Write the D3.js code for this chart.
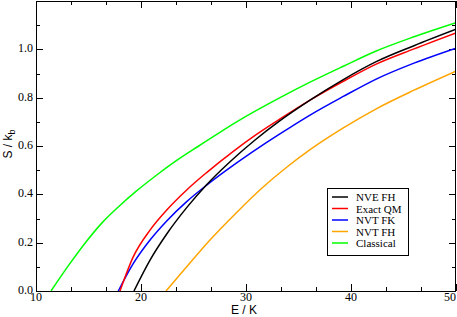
<!DOCTYPE html>
<html>
<head>
<meta charset="utf-8">
<script src="https://cdn.jsdelivr.net/npm/d3@7"></script>
<style>
  body { margin: 0; background: #fff; }
  svg { display: block; }
  .tick-label { font-family: "Liberation Serif", "Times New Roman", serif; font-size: 12px; }
  .axis-title { font-family: "Liberation Sans", Arial, sans-serif; font-size: 12px; }
  .legend-text { font-family: "Liberation Serif", "Times New Roman", serif; font-size: 11px; }
</style>
</head>
<body>
<div id="chart"></div>
<script>
// values (E in K, S in units of k_b)
const nveFhE = [19.33, 20.86, 22.45, 24.35, 26.25, 28.48, 30.86, 33.24, 36.1, 39.27, 42.45, 46, 50];
const nveFhS = [0, 0.128, 0.236, 0.345, 0.44, 0.535, 0.625, 0.705, 0.79, 0.875, 0.95, 1.015, 1.083];

const exactQmE = [18.0, 19.27, 20.86, 22.45, 24.35, 26.25, 28.79, 31, 33.24, 36.1, 39.27, 42.45, 46, 50];
const exactQmS = [0, 0.142, 0.252, 0.335, 0.418, 0.49, 0.578, 0.648, 0.712, 0.79, 0.868, 0.94, 1.002, 1.068];

const nvtFkE = [17.84, 19.27, 20.86, 22.45, 24.35, 26.25, 29.11, 31.97, 33.87, 36.1, 39.27, 42.45, 46, 50];
const nvtFkS = [0, 0.114, 0.211, 0.29, 0.37, 0.438, 0.53, 0.615, 0.668, 0.728, 0.805, 0.878, 0.943, 1.005];

const nvtFhE = [22.38, 24.35, 26.57, 29.11, 31.5, 33.87, 36.1, 39.27, 42.45, 46, 50];
const nvtFhS = [0, 0.10, 0.211, 0.325, 0.425, 0.512, 0.585, 0.675, 0.755, 0.831, 0.91];

const classicalE = [11.43, 13.17, 14.76, 16.35, 17.94, 19.52, 21.5, 23.33, 25.5, 29.11, 33.24, 36.1, 39.27, 42.4, 46, 50];
const classicalS = [0, 0.11, 0.203, 0.285, 0.352, 0.412, 0.48, 0.538, 0.6, 0.7, 0.8, 0.864, 0.93, 0.993, 1.052, 1.11];

const seriesNames = ["NVE FH", "Exact QM", "NVT FK", "NVT FH", "Classical"];
const seriesColors = ["#000000", "#ff0000", "#0000ff", "#ffa500", "#00ff00"];

const xTicks = [10, 20, 30, 40, 50];
const yTicks = [0, 0.2, 0.4, 0.6, 0.8, 1.0];

const W = 457, H = 317;
const margin = { top: 1, right: 1, bottom: 26, left: 36 };
const plotW = W - margin.left - margin.right;
const plotH = H - margin.top - margin.bottom;

const series = [
  [nveFhE, nveFhS], [exactQmE, exactQmS], [nvtFkE, nvtFkS], [nvtFhE, nvtFhS], [classicalE, classicalS]
].map((d, i) => ({
  name: seriesNames[i],
  color: seriesColors[i],
  points: d[0].map((e, j) => [e, d[1][j]])
}));

const x = d3.scaleLinear().domain([10, 50]).range([0, plotW]);
const y = d3.scaleLinear().domain([0, 1.2]).range([plotH, 0]);

const svg = d3.select("#chart").append("svg")
  .attr("width", W)
  .attr("height", H);

const g = svg.append("g")
  .attr("transform", "translate(" + margin.left + "," + margin.top + ")");

// minor ticks: x every 10/3, y every 0.1
const xMinor = d3.range(0, 13).map(i => 10 + i * 10 / 3).filter((v, i) => i % 3 !== 0);
const yMinor = d3.range(0, 6).map(i => 0.1 + i * 0.2);

const tickG = g.append("g").attr("stroke", "#000").attr("stroke-width", 1);

function addXTicks(vals, len) {
  vals.forEach(v => {
    const px = Math.round(x(v)) + 0.5;
    tickG.append("line").attr("x1", px).attr("x2", px).attr("y1", plotH).attr("y2", plotH - len);
    tickG.append("line").attr("x1", px).attr("x2", px).attr("y1", 0).attr("y2", len);
  });
}
function addYTicks(vals, len) {
  vals.forEach(v => {
    const py = Math.round(y(v)) + 0.5;
    tickG.append("line").attr("x1", 0).attr("x2", len).attr("y1", py).attr("y2", py);
    tickG.append("line").attr("x1", plotW).attr("x2", plotW - len).attr("y1", py).attr("y2", py);
  });
}
addXTicks(xTicks, 7);
addXTicks(xMinor, 4);
addYTicks(yTicks, 7);
addYTicks(yMinor, 4);

// curves
g.append("defs").append("clipPath").attr("id", "clip")
  .append("rect").attr("width", plotW).attr("height", plotH);

const line = d3.line()
  .x(d => x(d[0]))
  .y(d => y(d[1]))
  .curve(d3.curveMonotoneX);

g.append("g").attr("clip-path", "url(#clip)")
  .selectAll("path")
  .data(series.slice().reverse())
  .enter().append("path")
    .attr("d", d => line(d.points))
    .attr("fill", "none")
    .attr("stroke", d => d.color)
    .attr("stroke-width", 1.5);

// frame
g.append("rect")
  .attr("x", 0.5).attr("y", 0.5)
  .attr("width", plotW - 1).attr("height", plotH)
  .attr("fill", "none")
  .attr("stroke", "#000");

// tick labels
g.selectAll(".xl").data(xTicks).enter().append("text")
  .attr("class", "tick-label")
  .attr("x", d => Math.min(x(d), plotW - 6))
  .attr("y", plotH + 10)
  .attr("text-anchor", "middle")
  .text(d => d);

g.selectAll(".yl").data(yTicks).enter().append("text")
  .attr("class", "tick-label")
  .attr("x", -3)
  .attr("y", d => y(d) + 3)
  .attr("text-anchor", "end")
  .text(d => d.toFixed(1));

// axis titles
svg.append("text")
  .attr("class", "axis-title")
  .attr("x", margin.left + plotW / 2 - 2)
  .attr("y", H - 3)
  .attr("text-anchor", "middle")
  .text("E / K");

const yTitle = svg.append("text")
  .attr("class", "axis-title")
  .attr("transform", "translate(12," + (margin.top + plotH / 2 - 2) + ") rotate(-90)")
  .attr("text-anchor", "middle");
yTitle.append("tspan").text("S / k");
yTitle.append("tspan").attr("dy", 3).attr("font-size", "9px").text("b");

// legend
const legend = svg.append("g").attr("transform", "translate(327,188)");
legend.append("rect")
  .attr("x", 0.5).attr("y", 0.5)
  .attr("width", 81).attr("height", 67)
  .attr("fill", "#fff")
  .attr("stroke", "#000");

const rows = legend.selectAll(".row").data(series).enter().append("g")
  .attr("transform", (d, i) => "translate(0," + (9 + i * 11.5) + ")");
rows.append("line")
  .attr("x1", 5).attr("x2", 21)
  .attr("y1", 0).attr("y2", 0)
  .attr("stroke", d => d.color)
  .attr("stroke-width", 1.5);
rows.append("text")
  .attr("class", "legend-text")
  .attr("x", 29)
  .attr("y", 4)
  .text(d => d.name);
</script>
</body>
</html>
